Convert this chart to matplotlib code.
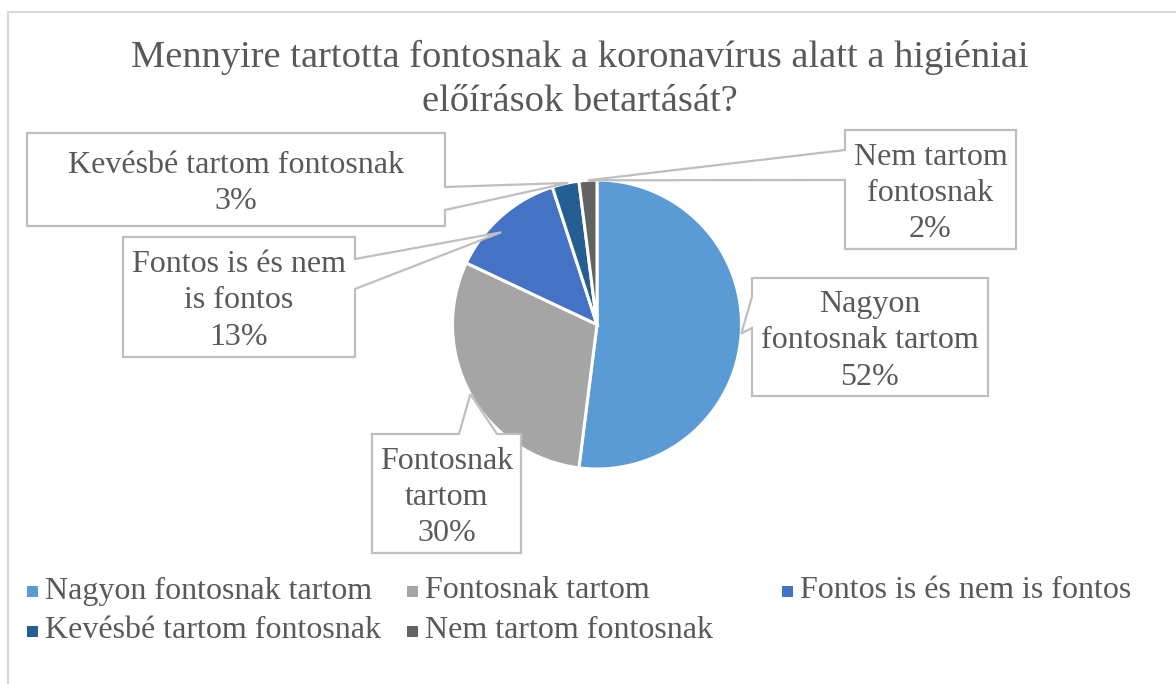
import matplotlib
matplotlib.use("Agg")
import matplotlib.pyplot as plt
from matplotlib.patches import Polygon, Rectangle
import numpy as np

# ---- data ----
categories = ["Nagyon fontosnak tartom", "Fontosnak tartom", "Fontos is és nem is fontos",
              "Kevésbé tartom fontosnak", "Nem tartom fontosnak"]
values = [52, 30, 13, 3, 2]
label_texts = ["Nagyon\nfontosnak tartom", "Fontosnak\ntartom", "Fontos is és nem\nis fontos",
               "Kevésbé tartom fontosnak", "Nem tartom\nfontosnak"]
colors = ["#5B9BD5", "#A5A5A5", "#4472C4", "#255E91", "#636363"]
title = "Mennyire tartotta fontosnak a koronavírus alatt a higiéniai\nelőírások betartását?"

W, H = 1176, 684
plt.rcParams['font.family'] = ['Liberation Serif', 'DejaVu Serif']
TXT = "#595959"
EDGE = "#BFBFBF"

fig = plt.figure(figsize=(W / 100, H / 100), dpi=100)
ax = fig.add_axes([0, 0, 1, 1])


def P(x, y):
    return (x, H - y)


cx, cy = P(597, 324.5)
R = 144.5
wedges, _ = ax.pie(values, colors=colors, startangle=90, counterclock=False,
                   center=(cx, cy), radius=R,
                   wedgeprops=dict(edgecolor="white", linewidth=2.2))
ax.set_xlim(0, W)
ax.set_ylim(0, H)
ax.set_aspect("equal")
ax.axis("off")

# outer chart border
ax.add_patch(Rectangle(P(8, 700), 1200, 700 - 12, fill=False, edgecolor="#D9D9D9", lw=1.5,
                       clip_on=True))

# title
lines = title.split("\n")
ax.text(580, H - 67, lines[0], ha="center", va="baseline", fontsize=27.7, color=TXT)
ax.text(580, H - 111, lines[1], ha="center", va="baseline", fontsize=27.7, color=TXT)

# callout layout: box (x0, y0, x1, y1) in image px, side with pointer, base interval,
# pointer position within wedge (angle fraction, radius fraction)
layout = [
    dict(box=(752, 278, 988, 396), side="left", base=(297, 328), af=0.5, rf=1.0),
    dict(box=(372, 434, 521, 553), side="top", base=(459, 497), af=0.5, rf=1.0),
    dict(box=(123, 237, 355, 357), side="right", base=(259, 289), af=0.6, rf=0.92),
    dict(box=(27, 133, 445, 226), side="right", base=(187, 210), af=0.4, rf=1.0),
    dict(box=(845, 130, 1016, 249), side="left", base=(150, 180), af=0.5, rf=1.0),
]

for w, lay, txt, v in zip(wedges, layout, label_texts, values):
    ang = np.deg2rad(w.theta1 + lay["af"] * (w.theta2 - w.theta1))
    tx = cx + R * lay["rf"] * np.cos(ang)
    ty = cy + R * lay["rf"] * np.sin(ang)
    x0, y0, x1, y1 = lay["box"]
    a, b = lay["base"]
    if lay["side"] == "left":
        pts = [P(x0, y0), P(x1, y0), P(x1, y1), P(x0, y1), P(x0, b), (tx, ty), P(x0, a)]
    elif lay["side"] == "right":
        pts = [P(x0, y0), P(x1, y0), P(x1, a), (tx, ty), P(x1, b), P(x1, y1), P(x0, y1)]
    else:  # top
        pts = [P(x0, y0), P(a, y0), (tx, ty), P(b, y0), P(x1, y0), P(x1, y1), P(x0, y1)]
    ax.add_patch(Polygon(pts, closed=True, facecolor="white", edgecolor=EDGE, lw=1.6,
                         joinstyle="miter", zorder=3))
    ax.text((x0 + x1) / 2, H - (y0 + y1) / 2 - 4, f"{txt}\n{v}%", ha="center", va="center",
            fontsize=23, color=TXT, linespacing=1.34, zorder=4)

# legend (manual layout)
leg_pos = [(27, 591), (407, 591), (782, 591), (27, 631), (407, 631)]
for (lx, ly), c, name in zip(leg_pos, colors, categories):
    ax.add_patch(Rectangle(P(lx, ly + 5.5), 11, 11, facecolor=c, edgecolor="none"))
    ax.text(lx + 18, H - ly, name, ha="left", va="center", fontsize=23, color=TXT)

fig.savefig("out.png", dpi=100)
